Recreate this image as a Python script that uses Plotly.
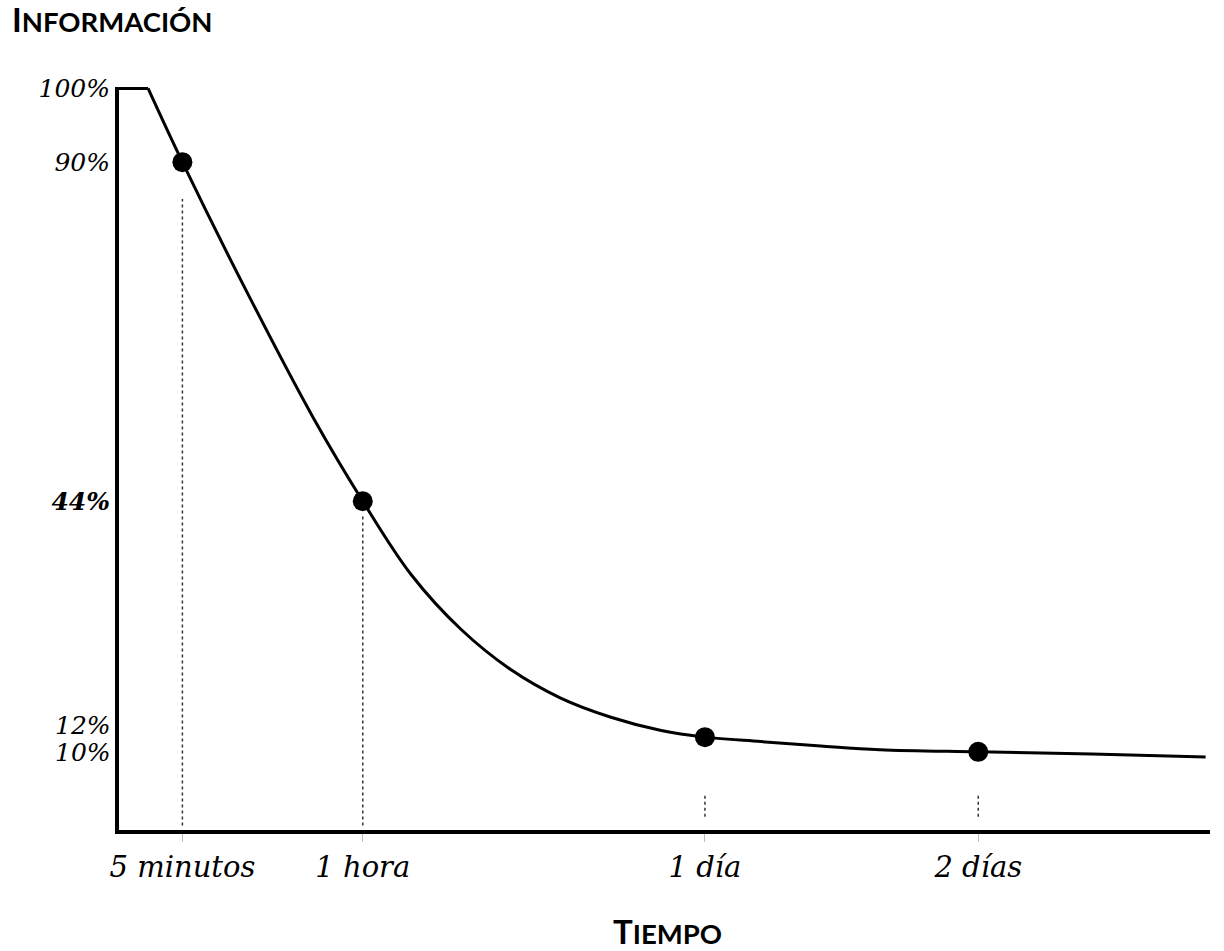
import plotly.graph_objects as go

# ---- data ----
tiempo_etiquetas = ["5 minutos", "1 hora", "1 día", "2 días"]
tiempo_pos = [6.0, 22.5, 53.8, 78.8]          # schematic time axis units
retencion = [90, 44, 12, 10]                  # % of information kept

meseta_x = [0, 2.86]
meseta_y = [100, 100]

curva_x = [2.86, 6.0, 11.93, 17.98, 22.5, 26.9, 31.5, 36.1, 40.6, 45.2,
           49.8, 53.8, 58.9, 64.4, 69.8, 78.8, 89.2, 99.6]
curva_y = [100, 90, 72.3, 55.3, 44, 34.1, 26.6, 21.1, 17.3, 14.7,
           12.9, 12, 11.4, 10.8, 10.3, 10, 9.7, 9.3]

guia_sup = [85.0, 42.0, 4.4, 4.4]
guia_inf = [0.0, 0.0, 1.2, 1.2]

y_ticks = [44, 90, 100]
y_tick_text = ["<b>44%</b>", "90%", "100%"]
y_extra = [12, 10]
y_extra_text = ["12%", "10%"]

SERIF = "DejaVu Serif"
SANS = "Lato"

fig = go.Figure()

# dotted guide lines
for x, y0, y1 in zip(tiempo_pos, guia_inf, guia_sup):
    fig.add_trace(go.Scatter(x=[x, x], y=[y0, y1], mode="lines",
                             line=dict(color="#333", width=1.5, dash="dot"),
                             hoverinfo="skip", showlegend=False))

# plateau
fig.add_trace(go.Scatter(x=meseta_x, y=meseta_y, mode="lines",
                         line=dict(color="black", width=3),
                         showlegend=False))
# curve
fig.add_trace(go.Scatter(x=curva_x, y=curva_y, mode="lines",
                         line=dict(color="black", width=3, shape="spline", smoothing=1.0),
                         showlegend=False))
# points
fig.add_trace(go.Scatter(x=tiempo_pos, y=retencion, mode="markers",
                         marker=dict(color="black", size=20),
                         showlegend=False))

annotations = []
for yv, txt, sh in zip(y_extra, y_extra_text, [12, -1]):
    annotations.append(dict(xref="paper", yref="y", x=0, y=yv, text=txt,
                            xanchor="right", yanchor="middle", xshift=-6, yshift=sh,
                            showarrow=False,
                            font=dict(family=SERIF, size=25, color="black", style="italic")))

annotations.append(dict(xref="paper", yref="paper", x=-0.1, y=1.092,
                        xanchor="left", yanchor="middle", showarrow=False,
                        text="<b><span style='font-size:33px'>I</span>NFORMACIÓN</b>",
                        font=dict(family=SANS, size=27.5, color="black")))
annotations.append(dict(xref="paper", yref="paper", x=0.503, y=-0.136,
                        xanchor="center", yanchor="middle", showarrow=False,
                        text="<b><span style='font-size:33px'>T</span>IEMPO</b>",
                        font=dict(family=SANS, size=27.5, color="black")))

fig.update_layout(
    width=1224, height=951,
    margin=dict(l=119, r=14, t=87, b=121),
    paper_bgcolor="white", plot_bgcolor="white",
    annotations=annotations,
    xaxis=dict(range=[0.2, 100], showgrid=False, zeroline=False,
               showline=True, linecolor="black", linewidth=4,
               tickmode="array", tickvals=tiempo_pos, ticktext=tiempo_etiquetas,
               ticks="outside", ticklen=8, tickcolor="#bbb", tickwidth=1,
               ticklabelstandoff=0,
               tickfont=dict(family=SERIF, size=29, color="black", style="italic")),
    yaxis=dict(range=[-0.6, 100.2], showgrid=False, zeroline=False,
               showline=True, linecolor="black", linewidth=4,
               tickmode="array", tickvals=y_ticks, ticktext=y_tick_text,
               ticks="", ticklabelstandoff=0,
               tickfont=dict(family=SERIF, size=25, color="black", style="italic")),
)

fig.write_html("out.html", config={"displayModeBar": False},
               post_script="document.body.style.margin='0';")
